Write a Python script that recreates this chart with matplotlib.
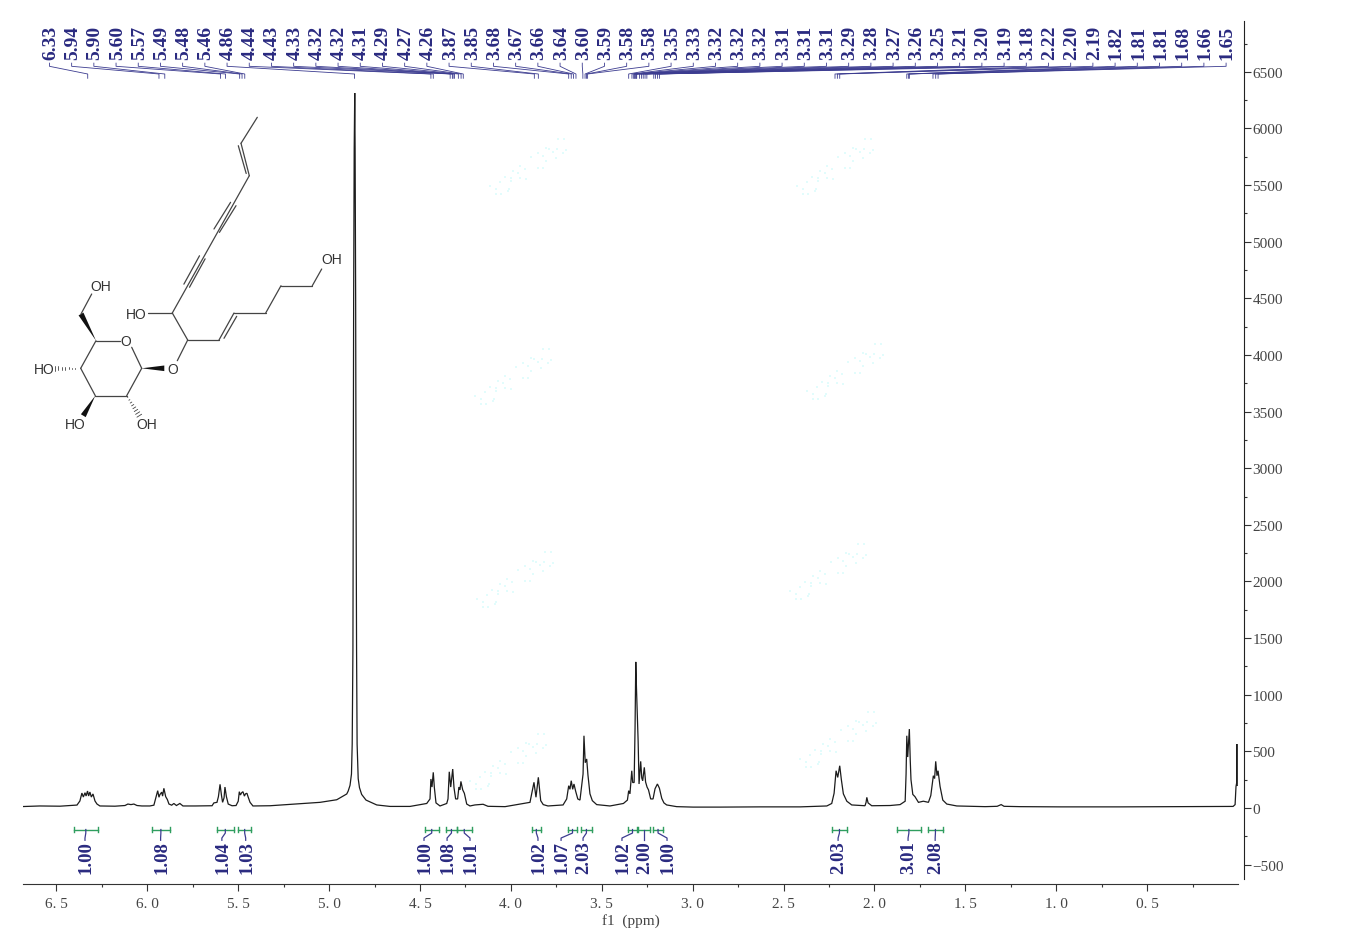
import numpy as np
import matplotlib
matplotlib.use("Agg")
import matplotlib.pyplot as plt
from matplotlib.patches import Polygon

plt.rcParams['font.family'] = ['Liberation Serif', 'DejaVu Serif']

#data

ppm = [
6.684,6.591,6.481,6.387,6.371,6.360,6.352,6.343,6.337,6.329,6.323,6.316,6.308,6.299,6.288,6.277,6.261,
6.178,6.123,6.107,6.090,6.074,6.057,6.030,5.986,5.964,5.955,5.943,5.936,5.931,5.921,5.916,5.909,5.899,
5.890,5.881,5.866,5.854,5.840,5.821,5.804,5.738,5.644,5.634,5.617,5.609,5.600,5.592,5.586,5.578,5.573,
5.565,5.555,5.534,5.512,5.500,5.494,5.488,5.481,5.474,5.466,5.460,5.452,5.446,5.435,5.419,5.325,5.233,
5.050,4.958,4.903,4.895,4.885,4.877,4.873,4.869,4.867,4.865,4.862,4.859,4.857,4.854,4.852,4.849,4.846,
4.843,4.840,4.833,4.821,4.797,4.738,4.665,4.555,4.463,4.445,4.440,4.434,4.427,4.421,4.412,4.390,4.353,4.346,4.339,4.331,
4.320,4.313,4.304,4.293,4.286,4.280,4.275,4.265,4.256,4.243,4.225,4.198,4.153,4.126,4.032,3.895,3.873,
3.862,3.849,3.836,3.822,3.796,3.713,3.693,3.682,3.675,3.668,3.660,3.653,3.644,3.632,3.620,3.609,3.603,
3.598,3.591,3.583,3.576,3.565,3.552,3.528,3.455,3.381,3.359,3.352,3.345,3.335,3.330,3.322,3.317,3.313,
3.309,3.304,3.300,3.295,3.286,3.280,3.275,3.266,3.259,3.251,3.243,3.231,3.218,3.207,3.194,3.183,3.170,
3.158,3.143,3.088,2.998,2.849,2.629,2.409,2.262,2.235,2.222,2.211,2.202,2.191,2.182,2.171,2.152,2.125,
2.052,2.046,2.042,2.035,2.015,1.914,1.859,1.831,1.826,1.822,1.817,1.808,1.803,1.799,1.789,1.777,1.758,
1.731,1.703,1.690,1.676,1.669,1.663,1.656,1.650,1.639,1.624,1.602,1.547,1.391,1.325,1.303,1.287,1.199,
0.979,0.649,0.319,0.027,0.016,0.011,0.0075,0.0065,0.0055,0.004,
]

intensity = [
13,18,16,26,62,132,97,135,106,150,106,141,97,124,62,35,18,
16,22,35,30,35,22,18,18,25,80,153,95,118,140,105,174,100,
75,35,25,40,22,40,18,18,20,45,50,100,209,110,50,90,185,
100,35,20,22,60,144,115,135,144,105,125,130,100,50,18,20,30,
50,73,124,150,200,300,565,1404,2905,4495,5819,6313,5819,4495,2905,1404,565,
400,260,180,120,70,27,14,14,40,80,256,185,315,180,45,18,40,80,320,185,
344,180,80,80,185,160,235,160,130,35,18,27,33,15,12,50,227,
95,271,65,30,18,27,80,197,165,241,165,212,150,80,70,221,300,
638,400,433,290,125,65,30,18,40,70,153,125,329,225,225,700,1290,
1050,790,590,212,412,265,240,359,230,185,160,80,80,170,212,175,85,
45,27,12,8,8,10,10,18,40,130,329,270,373,250,125,60,27,
20,50,94,45,20,22,30,60,300,638,450,697,420,250,120,100,50,
60,50,110,285,260,412,285,329,190,70,35,18,12,15,30,15,12,
10,10,12,14,30,190,220,565,220,200,
]

peak_shifts = [
6.328,5.936,5.904,5.597,5.570,5.492,5.479,5.464,4.860,4.440,4.427,4.334,4.322,4.318,4.310,4.289,4.274,4.262,
3.871,3.849,3.682,3.668,3.656,3.642,3.604,3.592,3.584,3.578,3.352,3.334,3.324,3.322,3.318,3.313,3.311,3.308,
3.292,3.282,3.272,3.262,3.252,3.214,3.204,3.193,3.183,2.217,2.204,2.191,1.822,1.812,1.808,1.678,1.663,1.650,
]

int_left = [6.404,5.975,5.617,5.502,4.473,4.357,4.297,3.884,3.686,3.614,3.356,3.301,3.218,2.233,1.876,1.705]
int_right = [6.273,5.876,5.525,5.427,4.398,4.297,4.216,3.836,3.636,3.555,3.306,3.235,3.163,2.152,1.745,1.624]
int_values = ['1.00','1.08','1.04','1.03','1.00','1.08','1.01','1.02','1.07','2.03','1.02','2.00','1.00','2.03','3.01','2.08']
int_label_ppm = [6.343,5.927,5.590,5.459,4.478,4.351,4.225,3.851,3.724,3.603,3.389,3.268,3.141,2.200,1.815,1.666]

xtips = ['6. 5','6. 0','5. 5','5. 0','4. 5','4. 0','3. 5','3. 0','2. 5','2. 0','1. 5','1. 0','0. 5']
xmajor = [6.5,6.0,5.5,5.0,4.5,4.0,3.5,3.0,2.5,2.0,1.5,1.0,0.5]
xminor = [6.25,5.75,5.25,4.75,4.25,3.75,3.25,2.75,2.25,1.75,1.25,0.75,0.25]

NAVY = '#2a2a80'
LEADER = '#3c3c90'
GREEN = '#2f9e5f'
GRAY = '#444444'

W, H = 1348, 953

fig = plt.figure(figsize=(W / 100, H / 100), dpi=100)
ax = fig.add_axes([23 / W, 1 - 885 / H, (1238 - 23) / W, (885 - 22) / H])

ax.plot(ppm, intensity, color='#1c1c1c', lw=0.9, solid_joinstyle='miter')
ax.set_xlim(6.684, 0.0)
ax.set_ylim(-671, 6949)

#axes
ax.spines['top'].set_visible(False)
ax.spines['left'].set_visible(False)
ax.spines['right'].set_position(('outward', 4.3))
ax.spines['right'].set_bounds(-627, 6949)
ax.spines['right'].set_color('#222222')
ax.spines['bottom'].set_color('#333333')
ax.yaxis.tick_right()
ax.set_xticks(xmajor)
ax.set_xticklabels(xtips)
ax.set_xticks(xminor, minor=True)
ax.set_yticks(np.arange(-500, 7000, 500))
ax.set_yticks(np.arange(-250, 7000, 500), minor=True)
ax.tick_params(axis='x', which='major', length=5, width=0.8, color='#333333', labelsize=11, labelcolor=GRAY, pad=4.2)
ax.tick_params(axis='x', which='minor', length=2.5, width=0.8, color='#333333')
ax.tick_params(axis='y', which='major', length=5, width=0.8, color='#333333', labelsize=11, labelcolor=GRAY, pad=1)
ax.tick_params(axis='y', which='minor', length=2.5, width=0.8, color='#333333')
ax.set_xlabel('f1  (ppm)', fontsize=11, color=GRAY, labelpad=2.5)

#peak labels and their leaders
label_x = np.linspace(6.5385, 0.0655, len(peak_shifts))
for lx, shift in zip(label_x, peak_shifts):
    ax.plot([lx, lx, shift, shift], [6577, 6549, 6481, 6443], color=LEADER, lw=0.6, clip_on=False)
    ax.text(lx - 0.007, 6612, '%.2f' % shift, rotation=90, ha='center', va='bottom',
            fontsize=14, fontweight='bold', color=NAVY)

#integrals
for left, right, val, lx in zip(int_left, int_right, int_values, int_label_ppm):
    mid = (left + right) / 2
    ax.plot([left, right], [-190, -190], color=GREEN, lw=1)
    ax.plot([left, left], [-216, -164], color=GREEN, lw=1)
    ax.plot([right, right], [-216, -164], color=GREEN, lw=1)
    ax.plot([mid, mid, lx, lx], [-190, -221, -265, -285], color=LEADER, lw=0.9)
    ax.text(lx - 0.006, -285, val, rotation=90, ha='center', va='top',
            fontsize=13.5, fontweight='bold', color=NAVY)

#overlay in picture pixels for the structure and the faint stamps
ov = fig.add_axes([0, 0, 1, 1], facecolor='none')
ov.set_xlim(0, W)
ov.set_ylim(H, 0)
ov.axis('off')

stamp_dx = [95,101,83,86,94,90,103,75,68,80,93,100,83,75,80,57,50,62,55,42,48,57,63,37,27,48,33,46,33,38,45]
stamp_dy = [13,13,22,23,23,26,24,27,31,30,32,27,35,42,42,40,45,43,47,51,52,52,53,56,60,55,63,63,68,68,65]
stamp_x = [463,770,448,780,450,763,443,773]
stamp_y = [127,127,337,332,540,532,722,700]
for sx, sy in zip(stamp_x, stamp_y):
    ov.scatter(np.array(stamp_dx) + sx, np.array(stamp_dy) + sy, s=1.5, marker='s', color='#e2fcfc', linewidths=0)

BOND = '#444444'

def bond(p, q, lw=0.9):
    ov.plot([p[0], q[0]], [p[1], q[1]], color=BOND, lw=lw, solid_capstyle='round')

def side_lines(p, q, off):
    d = np.array(q) - np.array(p)
    n = np.array([-d[1], d[0]]) / np.hypot(*d) * off
    bond(p + n, q + n)
    bond(p - n, q - n)

def wedge(p, q, w=2.8):
    d = np.array(q) - np.array(p)
    n = np.array([-d[1], d[0]]) / np.hypot(*d) * w
    ov.add_patch(Polygon([p, np.array(q) + n, np.array(q) - n], closed=True, color='#111111', lw=0))

def hashed(p, q, w=3.0, num=8):
    p = np.array(p)
    q = np.array(q)
    d = q - p
    n = np.array([-d[1], d[0]]) / np.hypot(*d)
    for t in np.linspace(0.08, 1, num):
        c = p + d * t
        bond(c + n * w * t, c - n * w * t, lw=0.6)

#chain
bond((257.3, 118.3), (241, 144.3))
bond((241, 144.3), (249.3, 176.7))
bond((238.3, 146.7), (246.2, 174.5))
bond((249.3, 176.7), (172.3, 314))
side_lines(np.array([233.3, 205.0]), np.array([216.7, 231.7]), 3.2)
side_lines(np.array([202.3, 258.3]), np.array([186.7, 286.7]), 3.2)
bond((148.3, 314), (172.3, 314))
bond((172.3, 314), (187.7, 341))
bond((187.7, 341), (177.3, 361.7))
bond((187.7, 341), (219, 341))
bond((219, 341), (234, 314))
bond((224, 339.3), (236.7, 317.3))
bond((234, 314), (265.7, 314))
bond((265.7, 314), (281, 286.7))
bond((281, 286.7), (312.3, 286.7))
bond((312.3, 286.7), (321.7, 270))

#sugar ring
bond((96, 341.7), (120, 341.7))
bond((131.7, 348.3), (141.7, 369.3))
bond((141.7, 369.3), (126.7, 396.7))
bond((126.7, 396.7), (95.3, 396.7))
bond((95.3, 396.7), (80.7, 369.3))
bond((80.7, 369.3), (96, 341.7))
bond((81, 315), (91.7, 295))
wedge((96, 341.7), (81, 315))
wedge((141.7, 369.3), (164.3, 369.3))
wedge((95.3, 396.7), (83.3, 416.7))
hashed((80.7, 369.3), (55, 369.3), w=2.2)
hashed((126.7, 396.7), (139.3, 416.7), w=2.8)

atoms = [(331.7, 260, 'OH'), (136.7, 315, 'HO'), (101, 287.3, 'OH'), (126, 342.5, 'O'), (172.3, 370, 'O'),
         (44, 370, 'HO'), (75, 425, 'HO'), (146.7, 425, 'OH')]
for ax_x, ax_y, s in atoms:
    ov.text(ax_x, ax_y, s, ha='center', va='center', fontsize=10, color='#333333', family='Liberation Sans')

fig.savefig('out.png', dpi=100)
